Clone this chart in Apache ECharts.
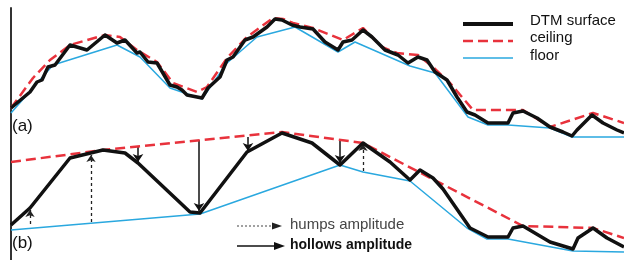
<!DOCTYPE html>
<html>
<head>
<meta charset="utf-8">
<script src="https://cdn.jsdelivr.net/npm/echarts@6/dist/echarts.min.js"></script>
<style>
  html, body { margin: 0; padding: 0; background: #fff; }
  #chart { width: 624px; height: 260px; }
</style>
</head>
<body>
<div id="chart"></div>
<script>
// (a) profile: [distance, elevation]
var surfaceA = [[0,152],[19,168],[26,178],[31,180],[37,193],[44,195],[59,215],[76,210],[94,225],[106,217],[114,220],[126,207],[129,208],[137,198],[146,197],[159,175],[166,173],[171,170],[176,165],[191,162],[197,172],[209,183],[216,200],[222,203],[234,220],[242,223],[256,233],[264,241],[271,240],[281,235],[289,233],[302,231],[314,218],[327,210],[332,218],[341,220],[352,230],[361,223],[374,210],[387,205],[397,197],[407,203],[416,200],[424,188],[436,180],[446,163],[456,148],[464,145],[477,137],[497,137],[502,147],[512,149],[526,142],[539,133],[552,128],[561,124],[566,130],[581,145],[592,137],[606,130],[613,127]];
var ceilingA = [[0,152],[22,182],[39,200],[59,215],[94,225],[109,223],[126,210],[146,198],[162,177],[186,168],[196,173],[216,202],[236,223],[262,242],[272,241],[282,237],[302,232],[332,220],[352,232],[371,213],[386,207],[407,205],[422,193],[439,177],[462,150],[512,150],[539,133],[582,147],[613,137]];
var floorA = [[0,147],[42,195],[106,215],[129,203],[159,172],[191,161],[216,197],[246,223],[284,233],[327,208],[344,218],[399,194],[424,187],[457,143],[477,135],[497,135],[539,132],[561,123],[613,123]];

// (b) profile
var surfaceB = [[0,35],[19,52],[59,102],[92,110],[114,107],[127,97],[179,48],[189,47],[236,108],[271,127],[301,117],[329,95],[352,117],[379,98],[399,80],[409,90],[422,82],[432,71],[459,32],[477,23],[497,23],[502,32],[512,34],[539,18],[562,11],[567,22],[582,32],[596,22],[613,13]];
var ceilingB = [[0,98],[92,110],[271,128],[352,117],[512,34],[582,32],[613,22]];
var floorB = [[0,30],[189,46],[329,95],[352,88],[399,79],[456,32],[476,21],[497,21],[562,9],[613,8]];

// amplitude arrows: [distance, from, to]
var hollows = [[127,113,98],[188,120,49],[237,123,109],[329,120,97]];
var humps = [[19,36,50],[80,38,105],[352,89,116]];

var red = '#e8323c';
var cyan = '#2aa8df';

var chart = echarts.init(document.getElementById('chart'));

function arrows(list) {
  return list.map(function (a) {
    return { coords: [[a[0], a[1]], [a[0], a[2]]] };
  });
}

function profile(name, data, style) {
  return {
    name: name,
    type: 'line',
    data: data,
    symbol: 'none',
    lineStyle: style,
    silent: true
  };
}

var option = {
  animation: false,
  grid: { left: 11, right: 0, top: 8, bottom: 0 },
  xAxis: { type: 'value', min: 0, max: 613, show: false },
  yAxis: {
    type: 'value', min: 0, max: 252,
    axisLine: { show: true, lineStyle: { color: '#333', width: 2 } },
    axisTick: { show: false },
    axisLabel: { show: false },
    splitLine: { show: false }
  },
  series: [
    profile('floor', floorA, { color: cyan, width: 1.5 }),
    profile('floor', floorB, { color: cyan, width: 1.5 }),
    profile('ceiling', ceilingA, { color: red, width: 2.5, type: [10, 5] }),
    profile('ceiling', ceilingB, { color: red, width: 2.5, type: [10, 5] }),
    profile('DTM surface', surfaceA, { color: '#111', width: 3.5, join: 'round' }),
    profile('DTM surface', surfaceB, { color: '#111', width: 3.5, join: 'round' }),
    {
      name: 'hollows amplitude',
      type: 'lines',
      coordinateSystem: 'cartesian2d',
      symbol: ['none', 'arrow'],
      symbolSize: 8,
      lineStyle: { color: '#111', width: 1.5, opacity: 1 },
      data: arrows(hollows)
    },
    {
      name: 'humps amplitude',
      type: 'lines',
      coordinateSystem: 'cartesian2d',
      symbol: ['none', 'arrow'],
      symbolSize: 7,
      lineStyle: { color: '#222', width: 1.3, type: [3, 3], opacity: 1 },
      data: arrows(humps)
    }
  ],
  graphic: [
    // legend top right
    { type: 'line', shape: { x1: 463, y1: 24, x2: 513, y2: 24 }, style: { stroke: '#111', lineWidth: 4 } },
    { type: 'line', shape: { x1: 463, y1: 41, x2: 513, y2: 41 }, style: { stroke: red, lineWidth: 2.5, lineDash: [10, 5] } },
    { type: 'line', shape: { x1: 463, y1: 58, x2: 513, y2: 58 }, style: { stroke: cyan, lineWidth: 1.5 } },
    { type: 'text', left: 530, top: 13, style: { text: 'DTM surface', font: '15px "Liberation Sans", Arial, sans-serif', fill: '#111' } },
    { type: 'text', left: 530, top: 30, style: { text: 'ceiling', font: '15px "Liberation Sans", Arial, sans-serif', fill: '#111' } },
    { type: 'text', left: 530, top: 48, style: { text: 'floor', font: '15px "Liberation Sans", Arial, sans-serif', fill: '#111' } },
    // panel labels
    { type: 'text', left: 12, top: 118, style: { text: '(a)', font: '17px "Liberation Sans", Arial, sans-serif', fill: '#111' } },
    { type: 'text', left: 12, top: 235, style: { text: '(b)', font: '17px "Liberation Sans", Arial, sans-serif', fill: '#111' } },
    // arrow legend
    { type: 'line', shape: { x1: 237, y1: 226, x2: 274, y2: 226 }, style: { stroke: '#444', lineWidth: 1, lineDash: [2, 2] } },
    { type: 'polygon', shape: { points: [[282, 226], [272, 222.5], [272, 229.5]] }, style: { fill: '#222' } },
    { type: 'line', shape: { x1: 237, y1: 246, x2: 276, y2: 246 }, style: { stroke: '#111', lineWidth: 1.5 } },
    { type: 'polygon', shape: { points: [[285, 246], [274, 242], [274, 250]] }, style: { fill: '#111' } },
    { type: 'text', left: 290, top: 217, style: { text: 'humps amplitude', font: '15px "Liberation Sans", Arial, sans-serif', fill: '#444' } },
    { type: 'text', left: 290, top: 238, style: { text: 'hollows amplitude', font: 'bold 14px "Liberation Sans", Arial, sans-serif', fill: '#111' } }
  ]
};

chart.setOption(option);
</script>
</body>
</html>
